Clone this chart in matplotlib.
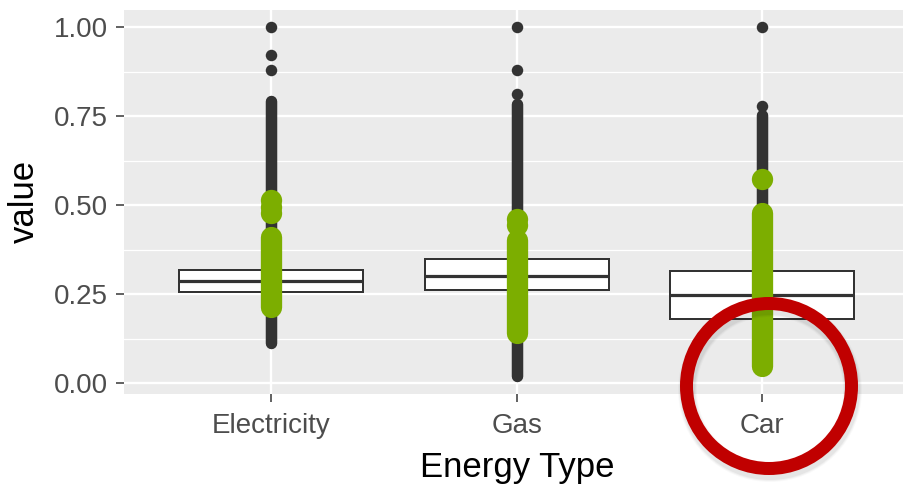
import matplotlib
matplotlib.use("Agg")
import matplotlib.pyplot as plt
from matplotlib.patches import Rectangle, Ellipse

# ---- data -------------------------------------------------------------
categories = ["Electricity", "Gas", "Car"]
lower_hinge = [0.256, 0.263, 0.180]
medians = [0.287, 0.301, 0.249]
upper_hinge = [0.317, 0.350, 0.315]

# all observations: dense stretches of overlapping points (low, high)
# plus the separated points above them
all_runs = [(0.114, 0.793), (0.020, 0.784), (0.050, 0.755)]
all_points = [[0.881, 0.923, 1.000], [0.812, 0.881, 1.000], [0.778, 1.000]]

# highlighted subset
sel_runs = [(0.213, 0.410), (0.140, 0.402), (0.049, 0.479)]
sel_points = [[0.478, 0.496, 0.514], [0.445, 0.461], [0.575]]

y_ticks = [0.00, 0.25, 0.50, 0.75, 1.00]
y_tick_labels = ["0.00", "0.25", "0.50", "0.75", "1.00"]
y_minor = [0.125, 0.375, 0.625, 0.875]
x_title = "Energy Type"
y_title = "value"

# ---- style ------------------------------------------------------------
W, H, DPI = 904, 488, 100
PX = 72.0 / DPI                     # points per pixel
plt.rcParams["font.family"] = ["Liberation Sans", "DejaVu Sans"]

panel_bg = "#EBEBEB"
dark = "#333333"
green = "#7CAE00"
ring_red = "#C00000"

fig = plt.figure(figsize=(W / DPI, H / DPI), dpi=DPI, facecolor="white")
left, right, top, bottom = 124.3, 909.3, 9.9, 393.6
ax = fig.add_axes([left / W, (H - bottom) / H, (right - left) / W, (bottom - top) / H])
ax.set_facecolor(panel_bg)
for s in ax.spines.values():
    s.set_visible(False)

# scales: 5% expansion on the continuous axis, 0.6 on the discrete axis
lo_all = min(r[0] for r in all_runs)
hi_all = max(max(p) for p in all_points)
span = hi_all - lo_all
ax.set_ylim(lo_all - 0.05 * span, hi_all + 0.05 * span)
xs = list(range(len(categories)))
ax.set_xlim(-0.6, len(categories) - 1 + 0.6)

# grid
ax.set_yticks(y_ticks)
ax.set_yticklabels(y_tick_labels)
ax.set_yticks(y_minor, minor=True)
ax.set_xticks(xs)
ax.set_xticklabels(categories)
ax.grid(True, which="major", color="white", linewidth=2.4 * PX)
ax.grid(True, which="minor", axis="y", color="white", linewidth=1.3 * PX)
ax.set_axisbelow(True)

ax.tick_params(axis="both", which="major", length=5.8, width=1.5 * PX,
               color=dark, labelcolor="#4D4D4D", labelsize=20)
ax.tick_params(axis="y", which="minor", length=0)
ax.tick_params(axis="x", pad=8.5)
ax.tick_params(axis="y", pad=6.0)

# boxes
box_w = 0.75
for i in xs:
    ax.add_patch(Rectangle((i - box_w / 2, lower_hinge[i]), box_w,
                           upper_hinge[i] - lower_hinge[i],
                           facecolor="white", edgecolor=dark,
                           linewidth=2.0 * PX, zorder=2))
    ax.plot([i - box_w / 2, i + box_w / 2], [medians[i], medians[i]],
            color=dark, linewidth=3.2 * PX, solid_capstyle="butt", zorder=2.1)

# points
d_dark = 11.5 * PX
d_green = 21.3 * PX
for i in xs:
    lo, hi = all_runs[i]
    ax.plot([i, i], [lo, hi], color=dark, linewidth=d_dark,
            solid_capstyle="round", zorder=3)
    ax.scatter([i] * len(all_points[i]), all_points[i], s=d_dark ** 2,
               color=dark, linewidths=0, zorder=3)
for i in xs:
    lo, hi = sel_runs[i]
    ax.plot([i, i], [lo, hi], color=green, linewidth=d_green,
            solid_capstyle="round", zorder=4)
    ax.scatter([i] * len(sel_points[i]), sel_points[i], s=d_green ** 2,
               color=green, linewidths=0, zorder=4)

ax.set_xlabel(x_title, fontsize=25, color="black", labelpad=8.5)
ax.set_ylabel(y_title, fontsize=25, color="black", labelpad=9.5)

# red ring callout around the last category, with a soft drop shadow
cx, cy, diam, ring = 769, 386, 165, 13
for k, a in [(6, 0.025), (4, 0.035), (2, 0.045)]:
    fig.add_artist(Ellipse(((cx + 1) / W, 1 - (cy + 4) / H), diam / W, diam / H,
                           transform=fig.transFigure, fill=False,
                           edgecolor="black", alpha=a,
                           linewidth=(ring + k) * PX, zorder=9))
fig.add_artist(Ellipse((cx / W, 1 - cy / H), diam / W, diam / H,
                       transform=fig.transFigure, fill=False,
                       edgecolor=ring_red, linewidth=ring * PX, zorder=10))

fig.savefig("out.png", dpi=DPI, facecolor="white")
